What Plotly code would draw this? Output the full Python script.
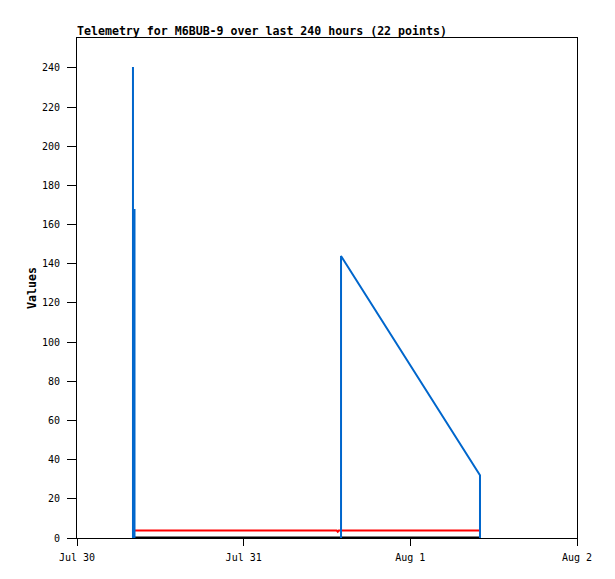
import plotly.graph_objects as go
from datetime import datetime, timedelta

base = datetime(2023, 7, 30)

def t(h):
    return None if h is None else base + timedelta(hours=h)

# Blue series (hours since Jul 30 00:00, values); None breaks the line
blue_hours = [8.06, 8.06, None, 8.28, 8.28, None, 38.02, 38.02, 58.03, 58.03]
blue_vals = [0, 240.5, None, 0, 168, None, 0, 144, 32, 0]

# Red series
red_hours = [8.3, 37.4, 37.55, 37.7, 58.0]
red_vals = [3.8, 3.8, 3.2, 3.8, 3.8]

# Black series
black_hours = [8.0, 58.0]
black_vals = [0.25, 0.25]

tick_dates = ["2023-07-30", "2023-07-31", "2023-08-01", "2023-08-02"]
tick_text = ["Jul 30", "Jul 31", "Aug 1", "Aug 2"]
y_ticks = list(range(0, 241, 20))

FONT = "DejaVu Sans Mono"
OFF = 8  # page body margin
W, H = 615 - OFF, 579 - OFF

fig = go.Figure()
fig.add_trace(go.Scatter(x=[t(h) for h in black_hours], y=black_vals, mode="lines",
                         line=dict(color="#000000", width=2), connectgaps=False, showlegend=False))
fig.add_trace(go.Scatter(x=[t(h) for h in red_hours], y=red_vals, mode="lines",
                         line=dict(color="#FF0000", width=2), connectgaps=False, showlegend=False))
fig.add_trace(go.Scatter(x=[t(h) for h in blue_hours], y=blue_vals, mode="lines",
                         line=dict(color="#0066CC", width=2), connectgaps=False, showlegend=False))

fig.update_layout(
    width=W, height=H,
    margin=dict(l=77 - OFF, r=38, t=38 - OFF, b=41, pad=0),
    paper_bgcolor="white", plot_bgcolor="white",
    font=dict(family=FONT, size=10, color="#000000"),
    title=dict(text="<b>Telemetry for M6BUB-9 over last 240 hours (22 points)</b>",
               x=(77 - OFF) / W, xanchor="left", xref="container",
               y=1 - (31 - OFF) / H, yanchor="middle", yref="container",
               font=dict(family=FONT, size=11.6, color="#000000")),
    xaxis=dict(range=["2023-07-30", "2023-08-02"], tickvals=tick_dates, ticktext=tick_text,
               showgrid=False, zeroline=False, showline=True, linecolor="#000000", linewidth=1,
               mirror=True, ticks="outside", ticklen=7, tickcolor="#000000",
               ticklabelstandoff=3, tickfont=dict(family=FONT, size=10)),
    yaxis=dict(range=[0, 255.3], tickvals=y_ticks, showgrid=False, zeroline=False,
               showline=True, linecolor="#000000", linewidth=1, mirror=True,
               ticks="outside", ticklen=9, tickcolor="#000000",
               ticklabelstandoff=5, tickfont=dict(family=FONT, size=10)),
    annotations=[dict(text="<b>Values</b>", xref="paper", yref="paper",
                      x=(32 - 77) / 500, y=0.5, textangle=-90, showarrow=False,
                      xanchor="center", yanchor="middle",
                      font=dict(family=FONT, size=11.6, color="#000000"))],
)

fig.write_html("out.html")
